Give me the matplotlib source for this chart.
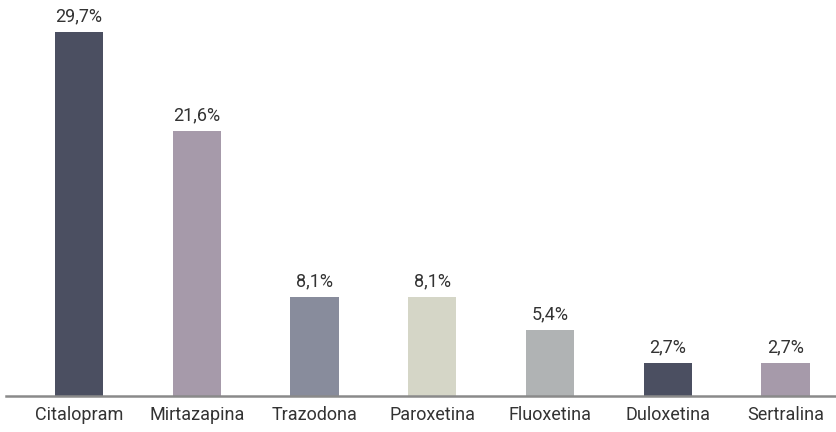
import matplotlib
matplotlib.use("Agg")
import matplotlib.pyplot as plt

drugs = ["Citalopram", "Mirtazapina", "Trazodona", "Paroxetina",
         "Fluoxetina", "Duloxetina", "Sertralina"]
shares = [29.7, 21.6, 8.1, 8.1, 5.4, 2.7, 2.7]
colors = ["#4b4f61", "#a69aaa", "#888c9c", "#d5d6c7", "#b0b3b4",
          "#4b4f61", "#a69aaa"]

plt.rcParams["font.family"] = ["Roboto", "DejaVu Sans"]

fig = plt.figure(figsize=(8.36, 4.32), dpi=100)
ax = fig.add_axes([6 / 836, 36 / 432, 830 / 836, 396 / 432])

x = range(len(drugs))
bars = ax.bar(x, shares, width=0.41, color=colors)
for b, v in zip(bars, shares):
    ax.text(b.get_x() + b.get_width() / 2, v + 0.55,
            f"{v:.1f}%".replace(".", ","), ha="center", va="bottom",
            fontsize=13, color="#333333")

ax.set_xlim(-0.62, 6.43)
ax.set_ylim(0, 32.3)
ax.set_xticks(list(x))
ax.set_xticklabels(drugs, fontsize=13, color="#333333")
ax.tick_params(axis="x", length=0, pad=7)
ax.set_yticks([])
for s in ["top", "right", "left"]:
    ax.spines[s].set_visible(False)
ax.spines["bottom"].set_color("#8a8a8a")
ax.spines["bottom"].set_linewidth(1.8)

fig.savefig("out.png", dpi=100)
